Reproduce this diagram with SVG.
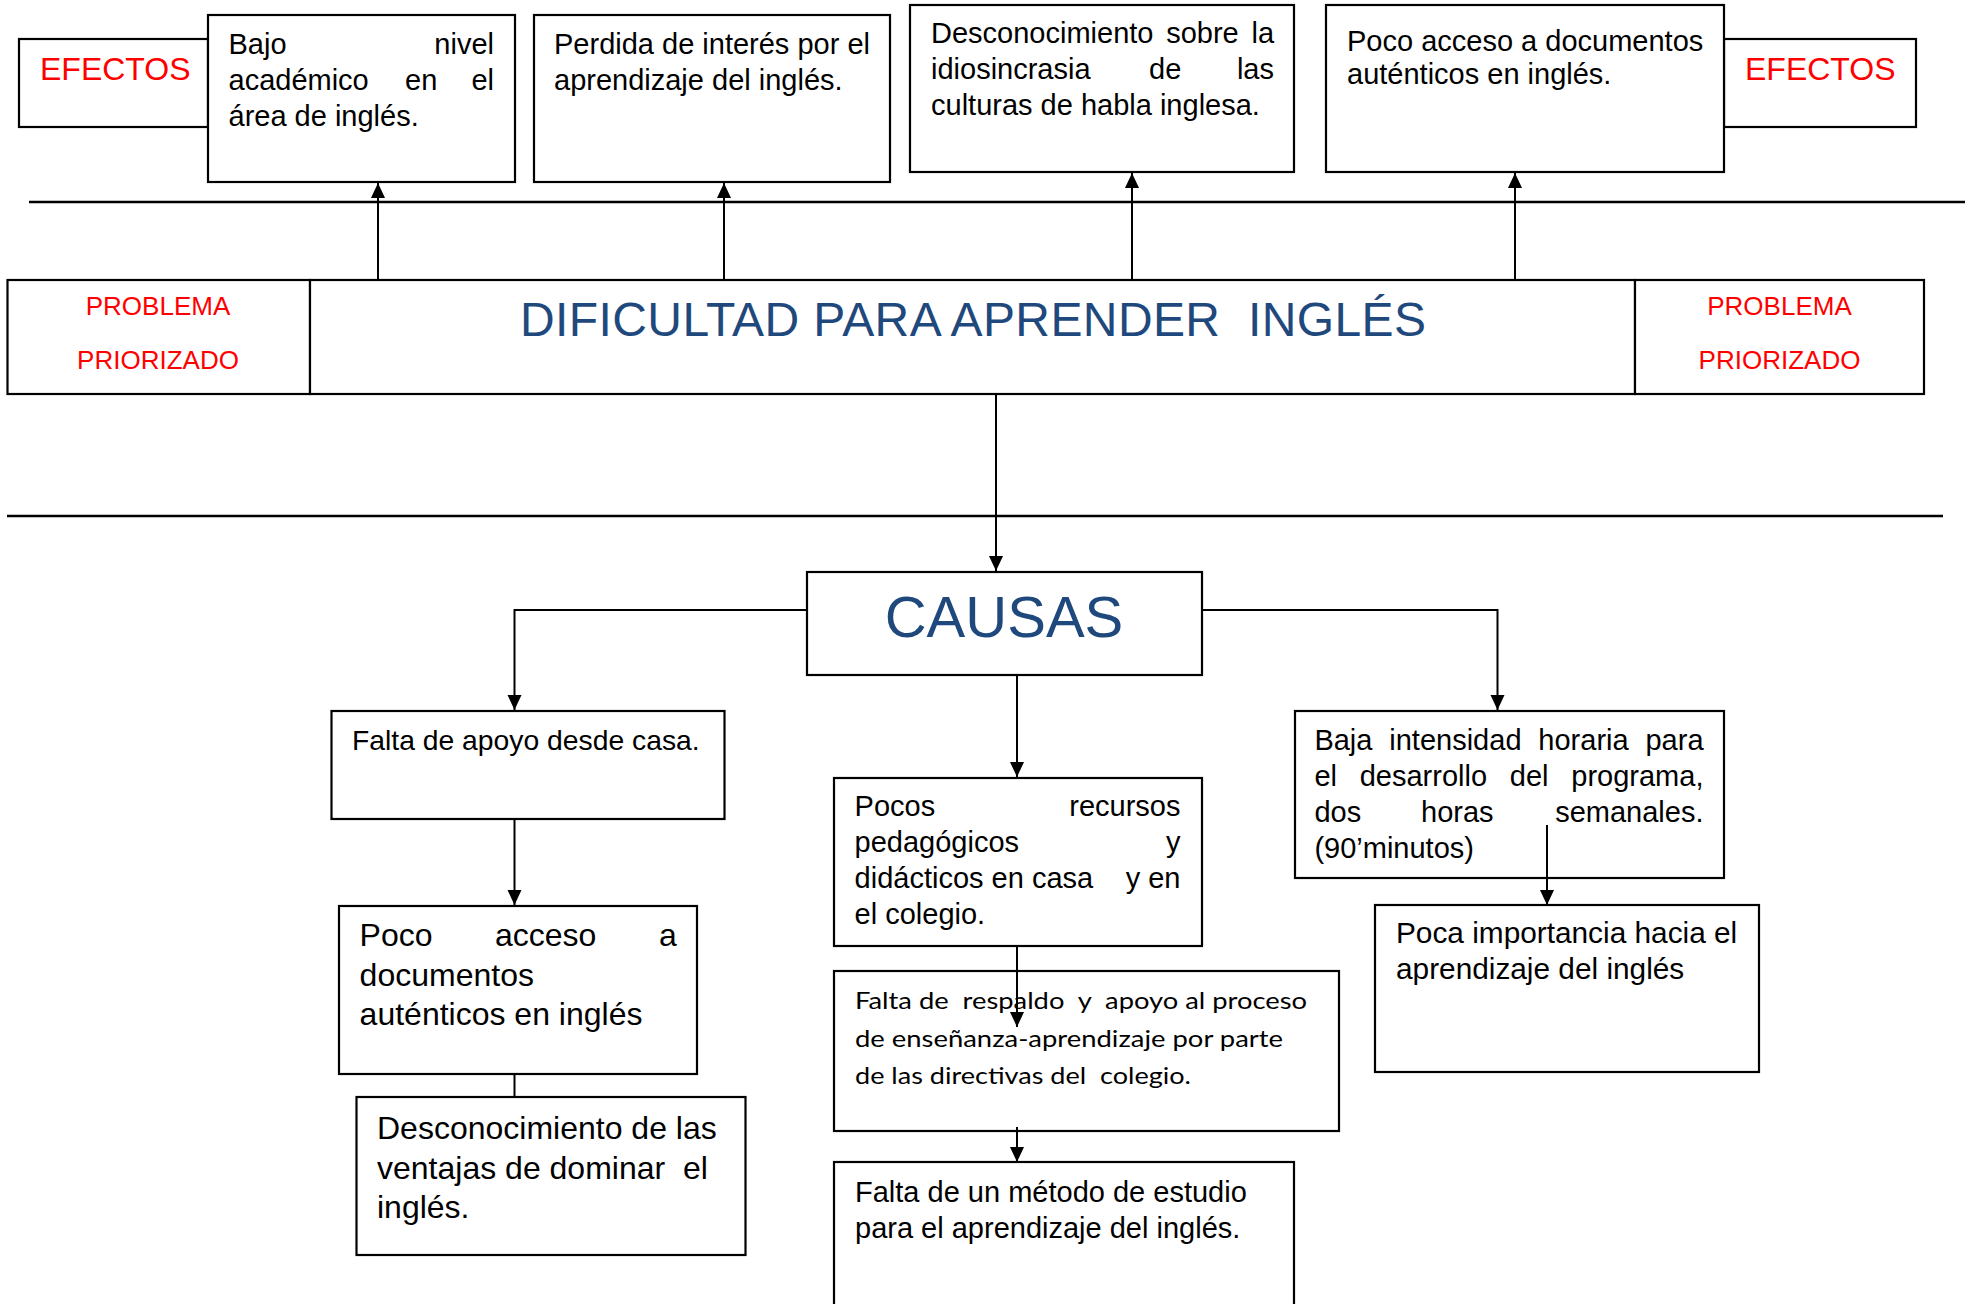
<svg xmlns="http://www.w3.org/2000/svg" width="1969" height="1304" viewBox="0 0 1969 1304">
<style>
.box{fill:#fff;stroke:#000;stroke-width:2.2}
.t{font-family:"Liberation Sans",Arial,sans-serif;font-size:29px;fill:#000}
.t32{font-family:"Liberation Sans",Arial,sans-serif;font-size:32px;fill:#000}
.red{font-family:"Liberation Sans",Arial,sans-serif;fill:#ff0000}
.blue{font-family:"Liberation Sans",Arial,sans-serif;fill:#1f497d}
.cal{font-family:Lato,"Open Sans",sans-serif;font-size:24px;fill:#000}
.pre{white-space:pre}
.con{fill:none;stroke:#000;stroke-width:2}
.hl{stroke:#000;stroke-width:2.5}
</style>
<defs>
<marker id="ah" markerUnits="userSpaceOnUse" markerWidth="16" markerHeight="15" refX="15" refY="7" orient="auto">
<path d="M0,0 L15,7 L0,14 z" fill="#000"/>
</marker>
</defs>
<rect width="1969" height="1304" fill="#fff"/>

<g id="efectos-left">
<rect class="box" x="19" y="39" width="189" height="88"/>
<text class="red" font-size="32" x="40" y="80">EFECTOS</text>
</g>
<g id="efectos-right">
<rect class="box" x="1724" y="39" width="192" height="88"/>
<text class="red" font-size="32" x="1745" y="80">EFECTOS</text>
</g>

<g id="efecto-bajo-nivel">
<rect class="box" x="208" y="15" width="307" height="167"/>
<text class="t" x="228.5" y="54">Bajo</text>
<text class="t" x="494" y="54" text-anchor="end">nivel</text>
<text class="t" x="228.5" y="90">académico</text>
<text class="t" x="405" y="90">en</text>
<text class="t" x="494" y="90" text-anchor="end">el</text>
<text class="t" x="228.5" y="126">área de inglés.</text>
</g>
<g id="efecto-perdida-interes">
<rect class="box" x="534" y="15" width="356" height="167"/>
<text class="t" x="554" y="54">Perdida de interés por el</text>
<text class="t" x="554" y="90">aprendizaje del inglés.</text>
</g>
<g id="efecto-desconocimiento">
<rect class="box" x="910" y="5" width="384" height="167"/>
<text class="t" x="931" y="43" word-spacing="4.7">Desconocimiento sobre la</text>
<text class="t" x="931" y="79">idiosincrasia</text>
<text class="t" x="1149" y="79">de</text>
<text class="t" x="1274" y="79" text-anchor="end">las</text>
<text class="t" x="931" y="115">culturas de habla inglesa.</text>
</g>
<g id="efecto-poco-acceso">
<rect class="box" x="1326" y="5" width="398" height="167"/>
<text class="t" x="1347" y="51">Poco acceso a documentos</text>
<text class="t" x="1347" y="84">auténticos en inglés.</text>
</g>

<g id="divisor-superior">
<line class="hl" x1="29" y1="202" x2="1965" y2="202"/>
</g>
<g id="divisor-inferior">
<line class="hl" x1="7" y1="516" x2="1943" y2="516"/>
</g>

<g id="problema-izq">
<rect class="box" x="7.5" y="280" width="302.5" height="114"/>
<text class="red" font-size="26" x="158" y="315" text-anchor="middle">PROBLEMA</text>
<text class="red" font-size="26" x="158" y="369" text-anchor="middle">PRIORIZADO</text>
</g>
<g id="problema-central">
<rect class="box" x="310" y="280" width="1325" height="114"/>
<text class="blue pre" font-size="48" x="520" y="336" textLength="906" lengthAdjust="spacing">DIFICULTAD PARA APRENDER  INGLÉS</text>
</g>
<g id="problema-der">
<rect class="box" x="1635" y="280" width="289" height="114"/>
<text class="red" font-size="26" x="1779.5" y="315" text-anchor="middle">PROBLEMA</text>
<text class="red" font-size="26" x="1779.5" y="369" text-anchor="middle">PRIORIZADO</text>
</g>

<g id="causas">
<rect class="box" x="807" y="572" width="395" height="103"/>
<text class="blue" font-size="58" x="1004" y="637" text-anchor="middle">CAUSAS</text>
</g>

<g id="causa-apoyo-casa">
<rect class="box" x="331.5" y="711" width="393" height="108"/>
<text class="t" style="font-size:28.3px" x="352" y="750">Falta de apoyo desde casa.</text>
</g>
<g id="causa-poco-acceso">
<rect class="box" x="339" y="906" width="358" height="168"/>
<text class="t32" x="359.6" y="946">Poco</text>
<text class="t32" x="495" y="946">acceso</text>
<text class="t32" x="676.7" y="946" text-anchor="end">a</text>
<text class="t32" x="359.6" y="986">documentos</text>
<text class="t32" x="359.6" y="1025">auténticos en inglés</text>
</g>
<g id="causa-desconocimiento-ventajas">
<rect class="box" x="356.5" y="1097" width="389" height="158"/>
<text class="t32" x="377" y="1139">Desconocimiento de las</text>
<text class="t32 pre" x="377" y="1179">ventajas de dominar  el</text>
<text class="t32" x="377" y="1218">inglés.</text>
</g>

<g id="causa-pocos-recursos">
<rect class="box" x="834" y="778" width="368" height="168"/>
<text class="t" x="854.6" y="816">Pocos</text>
<text class="t" x="1180.5" y="816" text-anchor="end">recursos</text>
<text class="t" x="854.6" y="852">pedagógicos</text>
<text class="t" x="1180.5" y="852" text-anchor="end">y</text>
<text class="t" x="854.6" y="888">didácticos en casa</text>
<text class="t" x="1180.5" y="888" text-anchor="end">y en</text>
<text class="t" x="854.6" y="924">el colegio.</text>
</g>
<g id="causa-falta-respaldo">
<rect class="box" x="834" y="971" width="505" height="160"/>
<text class="cal pre" x="855" y="1009" textLength="452" lengthAdjust="spacingAndGlyphs">Falta de  respaldo  y  apoyo al proceso</text>
<text class="cal" x="855" y="1047" textLength="428" lengthAdjust="spacingAndGlyphs">de enseñanza-aprendizaje por parte</text>
<text class="cal pre" x="855" y="1084" textLength="336" lengthAdjust="spacingAndGlyphs">de las directivas del  colegio.</text>
</g>
<g id="causa-metodo-estudio">
<rect class="box" x="834" y="1162" width="460" height="160"/>
<text class="t" x="855" y="1202">Falta de un método de estudio</text>
<text class="t" x="855" y="1238">para el aprendizaje del inglés.</text>
</g>

<g id="causa-intensidad-horaria">
<rect class="box" x="1295" y="711" width="429" height="167"/>
<text class="t" x="1314.4" y="750" word-spacing="8.8">Baja intensidad horaria para</text>
<text class="t" x="1314.4" y="786" word-spacing="14.7">el desarrollo del programa,</text>
<text class="t" x="1314.4" y="822">dos</text>
<text class="t" x="1421" y="822">horas</text>
<text class="t" x="1703.5" y="822" text-anchor="end">semanales.</text>
<text class="t" x="1314.4" y="858">(90’minutos)</text>
</g>
<g id="causa-poca-importancia">
<rect class="box" x="1375" y="905" width="384" height="167"/>
<text class="t" style="font-size:29.8px" x="1396" y="943">Poca importancia hacia el</text>
<text class="t" style="font-size:29.8px" x="1396" y="979">aprendizaje del inglés</text>
</g>

<g id="connectors">
<line class="con" x1="378" y1="280" x2="378" y2="183" marker-end="url(#ah)"/>
<line class="con" x1="724" y1="280" x2="724" y2="183" marker-end="url(#ah)"/>
<line class="con" x1="1132" y1="280" x2="1132" y2="173" marker-end="url(#ah)"/>
<line class="con" x1="1515" y1="280" x2="1515" y2="173" marker-end="url(#ah)"/>
<line class="con" x1="996" y1="394" x2="996" y2="571" marker-end="url(#ah)"/>
<polyline class="con" points="807,610 514.5,610 514.5,710" marker-end="url(#ah)"/>
<polyline class="con" points="1202,610 1497.5,610 1497.5,710" marker-end="url(#ah)"/>
<line class="con" x1="1017" y1="675" x2="1017" y2="777" marker-end="url(#ah)"/>
<line class="con" x1="514.5" y1="819" x2="514.5" y2="905" marker-end="url(#ah)"/>
<line class="con" x1="514.5" y1="1074" x2="514.5" y2="1097"/>
<line class="con" x1="1017" y1="946" x2="1017" y2="1027" marker-end="url(#ah)"/>
<line class="con" x1="1017" y1="1127" x2="1017" y2="1162" marker-end="url(#ah)"/>
<line class="con" x1="1547" y1="825" x2="1547" y2="905" marker-end="url(#ah)"/>
</g>
</svg>
